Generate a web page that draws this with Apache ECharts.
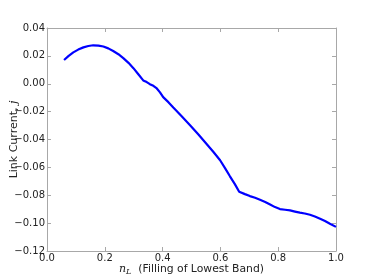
<!DOCTYPE html>
<html><head><meta charset="utf-8">
<script src="https://cdn.jsdelivr.net/npm/echarts@6/dist/echarts.min.js"></script>
<style>html,body{margin:0;padding:0;background:#fff}#c{width:374px;height:280px}</style>
</head><body><div id="c"></div>
<script>
var nL = [0.059,0.075,0.091,0.108,0.126,0.143,0.160,0.178,0.195,0.212,0.229,0.247,0.264,0.282,0.299,0.316,0.333,0.345,0.356,0.368,0.380,0.391,0.402,0.420,0.437,0.466,0.495,0.524,0.553,0.576,0.599,0.616,0.633,0.650,0.665,0.685,0.702,0.720,0.737,0.755,0.772,0.789,0.806,0.824,0.841,0.858,0.875,0.892,0.910,0.927,0.945,0.962,0.979,1.0];
var current = [0.0170,0.0200,0.0225,0.0245,0.0261,0.0271,0.0276,0.0274,0.0267,0.0254,0.0235,0.0212,0.0184,0.0150,0.0112,0.0068,0.0024,0.0012,-0.0003,-0.0015,-0.0034,-0.0062,-0.0096,-0.0132,-0.0170,-0.0233,-0.0297,-0.0364,-0.0434,-0.0490,-0.0549,-0.0605,-0.0664,-0.0720,-0.0775,-0.0792,-0.0806,-0.0818,-0.0832,-0.0848,-0.0866,-0.0885,-0.0899,-0.0904,-0.0909,-0.0917,-0.0925,-0.0931,-0.0940,-0.0952,-0.0968,-0.0985,-0.1004,-0.1027];
var xTicks = ['0.0','0.2','0.4','0.6','0.8','1.0'];
var yTicks = ['\u22120.12','\u22120.10','\u22120.08','\u22120.06','\u22120.04','\u22120.02','0.00','0.02','0.04'];

var pts = nL.map(function(v,i){return [v,current[i]];});
var frame = {show:true, onZero:false, lineStyle:{color:'#a8a8a8', width:1}};
var tick = {show:true, inside:true, length:4, lineStyle:{color:'#a8a8a8'}};
var font = 'DejaVu Sans';
var chart = echarts.init(document.getElementById('c'), null, {renderer:'canvas'});
chart.setOption({
  animation:false,
  grid:{left:47, right:38, top:28, bottom:29, containLabel:false, outerBoundsMode:'none'},
  xAxis:[{
    type:'value', min:0, max:1, interval:0.2, position:'bottom',
    axisLine:frame, axisTick:tick, splitLine:{show:false},
    axisLabel:{margin:2, fontSize:10, fontFamily:font, color:'#222',
      formatter:function(v){return xTicks[Math.round(v/0.2)];}},
    name:'{i|n}{s|L}  (Filling of Lowest Band)', nameLocation:'middle', nameGap:11, nameMoveOverlap:false,
    nameTextStyle:{fontSize:10.8, fontFamily:font, color:'#222',
      rich:{i:{fontFamily:'DejaVu Serif', fontStyle:'italic', fontSize:11, color:'#222'},
            s:{fontFamily:'DejaVu Serif', fontStyle:'italic', fontSize:8, color:'#222', verticalAlign:'bottom', padding:[6,0,0,0]}}}
  },{
    type:'value', min:0, max:1, interval:0.2, position:'top',
    axisLine:frame, axisTick:tick, axisLabel:{show:false}, splitLine:{show:false}
  }],
  yAxis:[{
    type:'value', min:-0.12, max:0.04, interval:0.02, position:'left',
    axisLine:frame, axisTick:tick, splitLine:{show:false},
    axisLabel:{margin:2, fontSize:10, fontFamily:font, color:'#222',
      formatter:function(v){return yTicks[Math.round((v+0.12)/0.02)];}},
    name:'Link Current, {i|j}', nameLocation:'middle', nameRotate:90, nameGap:27, nameMoveOverlap:false,
    nameTextStyle:{fontSize:11, fontFamily:font, color:'#222',
      rich:{i:{fontFamily:'DejaVu Serif', fontStyle:'italic', fontSize:11, color:'#222'}}}
  },{
    type:'value', min:-0.12, max:0.04, interval:0.02, position:'right',
    axisLine:frame, axisTick:tick, axisLabel:{show:false}, splitLine:{show:false}
  }],
  series:[{
    type:'line', data:pts, showSymbol:false, symbol:'none',
    lineStyle:{color:'#0000ff', width:2.2}, xAxisIndex:0, yAxisIndex:0
  }]
});
</script></body></html>
